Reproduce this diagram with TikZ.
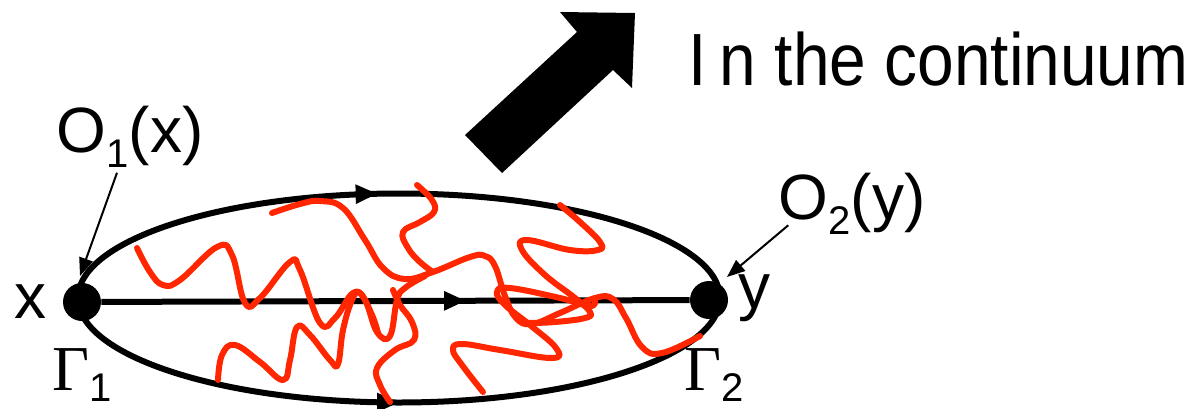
\documentclass[tikz,border=0pt]{standalone}
\usepackage{fontspec}
\setmainfont{Liberation Sans}
\newfontfamily\gfont{Liberation Serif}
\usetikzlibrary{arrows.meta,decorations.markings}
\definecolor{wred}{RGB}{255,38,0}
\newcommand{\mysub}[1]{\raisebox{-0.24em}{\fontsize{20}{24}\selectfont #1}}
\newcommand{\gsub}[1]{\raisebox{-0.18em}{\fontsize{20}{24}\selectfont #1}}
\begin{document}
\begin{tikzpicture}[x=0.5pt,y=-0.5pt,
  loopline/.style={line width=3pt},
  midarrow/.style={postaction={decorate},decoration={markings,mark=at position #1 with {\arrow{Triangle[length=11pt,width=9pt]}}}},
  wave/.style={wred,line width=3pt,line cap=round,line join=round},
  pointer/.style={line width=1pt,-{Triangle[length=9pt,width=7pt]}},
  lbl/.style={font=\fontsize{32}{38}\selectfont,inner sep=0pt},
  gam/.style={font=\fontsize{32}{38}\selectfont,inner sep=0pt,anchor=base west},
  dot/.style={circle,fill=black,minimum size=19pt,inner sep=0pt}
]
\useasboundingbox (0,0) rectangle (1196,408);
\coordinate (c) at (399,298);
% loop lines
\draw[loopline, midarrow=0.47] (c) ++(-321,0) arc[start angle=180,end angle=360,x radius=321,y radius=104.5];
\draw[loopline, midarrow=0.5] (c) ++(-321,0) arc[start angle=180,end angle=0,x radius=321,y radius=104.5];
\node[dot] (x) at (82,302) {};
\node[dot] (y) at (709,300) {};
\draw[loopline, midarrow=0.62] (x) -- (y);
% red wiggles
\draw[wave] plot[smooth,tension=0.7] coordinates {(272,213) (300,204) (320,201) (343,208) (365,240) (383,268) (405,279) (433,272) (470,257) (485,256) (495,266) (505,296) (516,318) (532,324) (560,313) (595,298) (613,299) (626,318) (642,347) (662,353) (700,336)};
\draw[wave] plot[smooth,tension=0.7] coordinates {(417,185) (432,200) (434,212) (420,222) (403,232) (408,248) (420,262) (433,272)};
\draw[wave] plot[smooth,tension=0.7] coordinates {(137,248) (150,272) (163,285) (180,280) (217,247) (232,255) (245,303) (260,298) (290,262) (300,270) (320,323) (335,318) (353,293) (365,300) (377,332) (390,336) (397,300) (405,288) (425,276)};
\draw[wave] plot[smooth,tension=0.7] coordinates {(218,380) (222,355) (235,345) (260,362) (283,380) (290,360) (297,327) (310,335) (330,360) (338,364) (343,330) (352,300) (360,293) (372,315) (378,333)};
\draw[wave] plot[smooth,tension=0.7] coordinates {(390,402) (380,385) (377,368) (395,350) (414,340) (412,322) (400,305) (393,290)};
\draw[wave] plot[smooth,tension=0.7] coordinates {(483,392) (462,365) (453,350) (462,344) (500,350) (552,358) (556,348) (530,325) (505,305) (497,292) (510,288) (560,298) (590,306) (595,300)};
\draw[wave] plot[smooth,tension=0.7] coordinates {(560,205) (580,222) (600,242) (598,250) (570,250) (527,240) (522,250) (545,275) (575,298) (590,312) (585,318) (555,322) (528,323)};
% labels
\node[lbl, anchor=base] (lx) at (30,318) {x};
\node[lbl, anchor=base] (ly) at (754,308) {y};
\node[lbl, anchor=base] (o1) at (130,152) {O\mysub{1}(x)};
\node[lbl, anchor=base] (o2) at (852,219) {O\mysub{2}(y)};
\node[gam] (g1) at (52,390) {{\gfont Γ}\gsub{1}};
\node[gam] (g2) at (684,390) {{\gfont Γ}\gsub{2}};
% pointers
\coordinate (p1e) at (80,276);
\coordinate (p2e) at (727,277);
\draw[pointer] ([xshift=-6.5pt,yshift=-2.5pt]o1.south) -- (p1e);
\draw[pointer] ([xshift=5pt,yshift=4.75pt]o2.south west) -- (p2e);
% big arrow
\fill (560,12) -- (635,13) -- (632,88) -- (613,70) -- (502,173) -- (465,135) -- (577,32) -- cycle;
\node[anchor=base west, inner sep=0pt, font=\fontsize{37}{44}\selectfont] (cont) at (688,85) {\resizebox{250pt}{\height}{I\hspace{0.2em}n the continuum}};
\end{tikzpicture}
\end{document}
